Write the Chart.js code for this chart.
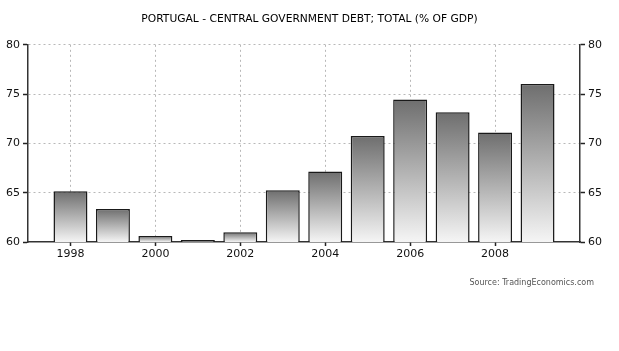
<!DOCTYPE html>
<html>
<head>
<meta charset="utf-8">
<script src="https://cdn.jsdelivr.net/npm/chart.js@4/dist/chart.umd.min.js"></script>
<style>
  html, body { margin: 0; padding: 0; background: #fff; }
  #wrap { width: 619px; height: 351px; }
</style>
</head>
<body>
<div id="wrap"><canvas id="debtChart"></canvas></div>
<script>
// data
const years = [1998, 1999, 2000, 2001, 2002, 2003, 2004, 2005, 2006, 2007, 2008, 2009];
const debtPct = [65.15, 63.35, 60.6, 60.2, 61.0, 65.25, 67.15, 70.76, 74.46, 73.17, 71.1, 76.04];
const yTicks = [60, 65, 70, 75, 80];
const shownYears = [1998, 2000, 2002, 2004, 2006, 2008];

// pad one empty year on each side so bars sit inside the axes
const labels = [String(years[0] - 1)].concat(years.map(String), [String(years[years.length - 1] + 1)]);
const values = [null].concat(debtPct, [null]);

const isShown = (idx) => shownYears.indexOf(Number(labels[idx])) !== -1;

// source line under the chart
const sourcePlugin = {
    id: "source",
    afterDraw(chart) {
        const ctx = chart.ctx;
        ctx.save();
        ctx.font = "8px 'DejaVu Sans'";
        ctx.fillStyle = "#555";
        ctx.textAlign = "right";
        ctx.textBaseline = "middle";
        ctx.fillText("Source: TradingEconomics.com", 594, 283);
        ctx.restore();
    }
};

// grey gradient per bar, dark at top to almost white at the base
function barFill(context) {
    const chart = context.chart;
    const yScale = chart.scales.y;
    if (!yScale || context.raw == null) return "#999";
    const top = yScale.getPixelForValue(context.raw);
    const bottom = yScale.getPixelForValue(yTicks[0]);
    if (!isFinite(top) || !isFinite(bottom) || top === bottom) return "#999";
    const g = chart.ctx.createLinearGradient(0, top, 0, bottom);
    g.addColorStop(0, "#6e6e6e");
    g.addColorStop(1, "#f5f5f5");
    return g;
}

const tickFont = { family: "'DejaVu Sans'", size: 11 };
const gridGrey = "#b8b8b8";

new Chart(document.getElementById("debtChart"), {
    type: "bar",
    data: {
        labels: labels,
        datasets: [
            {
                data: values,
                backgroundColor: barFill,
                borderColor: "#1a1a1a",
                borderWidth: 1.5,
                borderSkipped: "start",
                categoryPercentage: 1.0,
                barPercentage: 0.8,
            },
        ],
    },
    options: {
        responsive: true,
        maintainAspectRatio: false,
        animation: false,
        layout: { padding: { left: 0, right: 0, top: 0, bottom: 79 } },
        plugins: {
            legend: { display: false },
            tooltip: { enabled: false },
            title: {
                display: true,
                text: "PORTUGAL - CENTRAL GOVERNMENT DEBT; TOTAL (% OF GDP)",
                color: "#000",
                font: { family: "'DejaVu Sans'", size: 10.7, weight: "normal", lineHeight: 1.2 },
                padding: { top: 13, bottom: 19 },
            },
        },
        scales: {
            x: {
                type: "category",
                offset: false,
                afterFit: (scale) => { scale.height = 30; },
                grid: {
                    offset: false,
                    color: (c) => (isShown(c.index) ? gridGrey : "rgba(0,0,0,0)"),
                    tickColor: (c) => (isShown(c.index) ? "#222" : "rgba(0,0,0,0)"),
                    tickLength: 4,
                    tickWidth: 1.5,
                    tickBorderDash: [],
                    lineWidth: 1,
                },
                border: { display: true, color: "#333", width: 1.5, dash: [2, 3] },
                ticks: {
                    autoSkip: false,
                    maxRotation: 0,
                    padding: 2,
                    color: "#111",
                    font: tickFont,
                    callback: function (value, index) {
                        return isShown(index) ? labels[index] : "";
                    },
                },
            },
            y: {
                position: "left",
                min: yTicks[0],
                max: yTicks[yTicks.length - 1],
                afterFit: (scale) => { scale.width = 28; },
                afterBuildTicks: (scale) => { scale.ticks = yTicks.map((v) => ({ value: v })); },
                grid: {
                    color: (c) => (c.tick && c.tick.value === yTicks[0] ? "rgba(0,0,0,0)" : gridGrey),
                    tickColor: "#222",
                    tickLength: 5,
                    tickWidth: 1.5,
                    tickBorderDash: [],
                },
                border: { display: true, color: "#333", width: 1.5, dash: [2, 3] },
                ticks: { padding: 3, color: "#111", font: tickFont },
            },
            y2: {
                position: "right",
                min: yTicks[0],
                max: yTicks[yTicks.length - 1],
                afterFit: (scale) => { scale.width = 39; },
                afterBuildTicks: (scale) => { scale.ticks = yTicks.map((v) => ({ value: v })); },
                grid: {
                    drawOnChartArea: false,
                    tickColor: "#222",
                    tickLength: 5,
                    tickWidth: 1.5,
                },
                border: { display: true, color: "#333", width: 1.5 },
                ticks: { padding: 3, color: "#111", font: tickFont },
            },
        },
    },
    plugins: [sourcePlugin],
});
</script>
</body>
</html>
